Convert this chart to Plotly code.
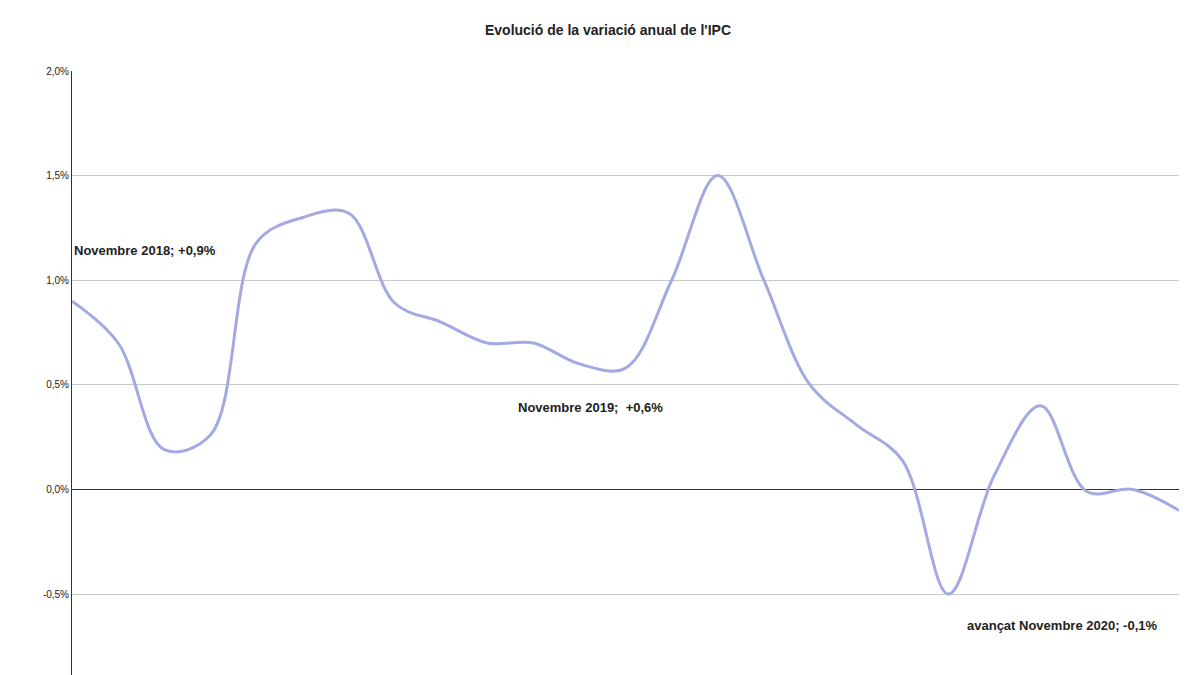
import plotly.graph_objects as go

months = ["nov18", "des18", "gen19", "feb19", "mar19", "abr19", "mai19", "jun19", "jul19",
          "ago19", "set19", "oct19", "nov19", "des19", "gen20", "feb20", "mar20", "abr20",
          "mai20", "jun20", "jul20", "ago20", "set20", "oct20", "nov20"]
ipc = [0.9, 0.7, 0.19, 0.26, 1.18, 1.3, 1.32, 0.89, 0.8, 0.7, 0.7, 0.6, 0.58, 1.0, 1.5,
       1.0, 0.5, 0.31, 0.14, -0.5, 0.07, 0.4, -0.01, 0.0, -0.1]
y_ticks = [-0.5, 0.0, 0.5, 1.0, 1.5, 2.0]
y_labels = ["-0,5%", "0,0%", "0,5%", "1,0%", "1,5%", "2,0%"]

fig = go.Figure()
fig.add_trace(go.Scatter(
    x=months, y=ipc, mode="lines",
    line=dict(color="#a3a9e2", width=3, shape="spline", smoothing=1.0),
    hoverinfo="skip",
))

# (month index, y, text, anchor, x shift)
notes = [
    (0, 1.14, "Novembre 2018; +0,9%", "left", 0),
    (12, 0.39, "Novembre 2019;  +0,6%", "center", -35),
    (24, -0.65, "avançat Novembre 2020; -0,1%", "right", -20),
]
for i, yv, txt, al, dx in notes:
    fig.add_annotation(x=months[i], y=yv, text="<b>" + txt + "</b>", showarrow=False,
                       xanchor=al, xshift=dx, font=dict(size=13, color="#222"))

fig.update_layout(
    width=1200, height=675,
    margin=dict(l=64, r=29, t=63, b=0),
    paper_bgcolor="white", plot_bgcolor="white",
    showlegend=False,
    font=dict(family="Liberation Sans, Arial", color="#222"),
    title=dict(text="<b>Evolució de la variació anual de l'IPC</b>", x=0.5, y=0.975,
               xanchor="center", font=dict(size=14)),
    xaxis=dict(range=[0, 24], showticklabels=False, showgrid=False, zeroline=False,
               ticks=""),
    yaxis=dict(range=[-0.925, 2.0], tickvals=y_ticks, ticktext=y_labels,
               showgrid=True, gridcolor="#c8c8c8", gridwidth=1,
               zeroline=True, zerolinecolor="#333", zerolinewidth=1,
               showline=True, linecolor="#333", linewidth=1,
               tickfont=dict(size=10), ticks="", ticklen=0),
)
fig.write_html("out.html")
